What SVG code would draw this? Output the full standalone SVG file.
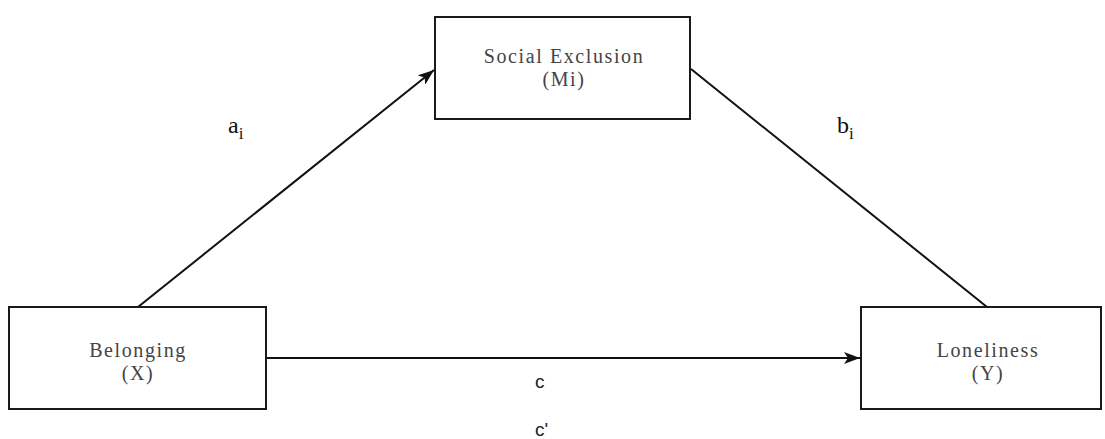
<svg xmlns="http://www.w3.org/2000/svg" width="1105" height="439" viewBox="0 0 1105 439">
<defs>
<style>
.box{fill:#fff;stroke:#1a1a1a;stroke-width:2}
.t{font-family:"Liberation Serif","Times New Roman",serif;font-size:20px;letter-spacing:1.6px;fill:#444;text-anchor:middle}
.lbl{font-family:"Liberation Serif","Times New Roman",serif;font-size:24px;fill:#111}
.sub{font-size:17px}
.c{font-family:"Liberation Sans",Arial,sans-serif;font-size:19px;fill:#222}
.edge{stroke:#111;stroke-width:2;fill:none}
</style>
<marker id="arrH" viewBox="0 0 16 12" refX="16" refY="6" markerWidth="16" markerHeight="12" markerUnits="userSpaceOnUse" orient="auto">
<path d="M0,0 L16,6 L0,12 L4,6 Z" fill="#111"/>
</marker>
</defs>
<g id="connectors">
<line class="edge" x1="138" y1="307" x2="434" y2="70" marker-end="url(#arrH)"/>
<line class="edge" x1="691" y1="69" x2="987" y2="307"/>
<line class="edge" x1="266" y1="358" x2="860" y2="358" marker-end="url(#arrH)"/>
</g>
<g id="node-mediator">
<rect class="box" x="435" y="17" width="255" height="102"/>
<text class="t" x="564" y="63">Social Exclusion</text>
<text class="t" x="564" y="86">(Mi)</text>
</g>
<g id="node-x">
<rect class="box" x="9" y="307" width="257" height="102"/>
<text class="t" x="138" y="357">Belonging</text>
<text class="t" x="138" y="380">(X)</text>
</g>
<g id="node-y">
<rect class="box" x="861" y="307" width="240" height="102"/>
<text class="t" x="988" y="357">Loneliness</text>
<text class="t" x="988" y="380">(Y)</text>
</g>
<g id="labels">
<text class="lbl" x="228" y="133">a<tspan class="sub" dy="6">i</tspan></text>
<text class="lbl" x="837" y="133">b<tspan class="sub" dy="6">i</tspan></text>
<text class="c" x="535" y="388">c</text>
<text class="c" x="535" y="436">c'</text>
</g>
</svg>
